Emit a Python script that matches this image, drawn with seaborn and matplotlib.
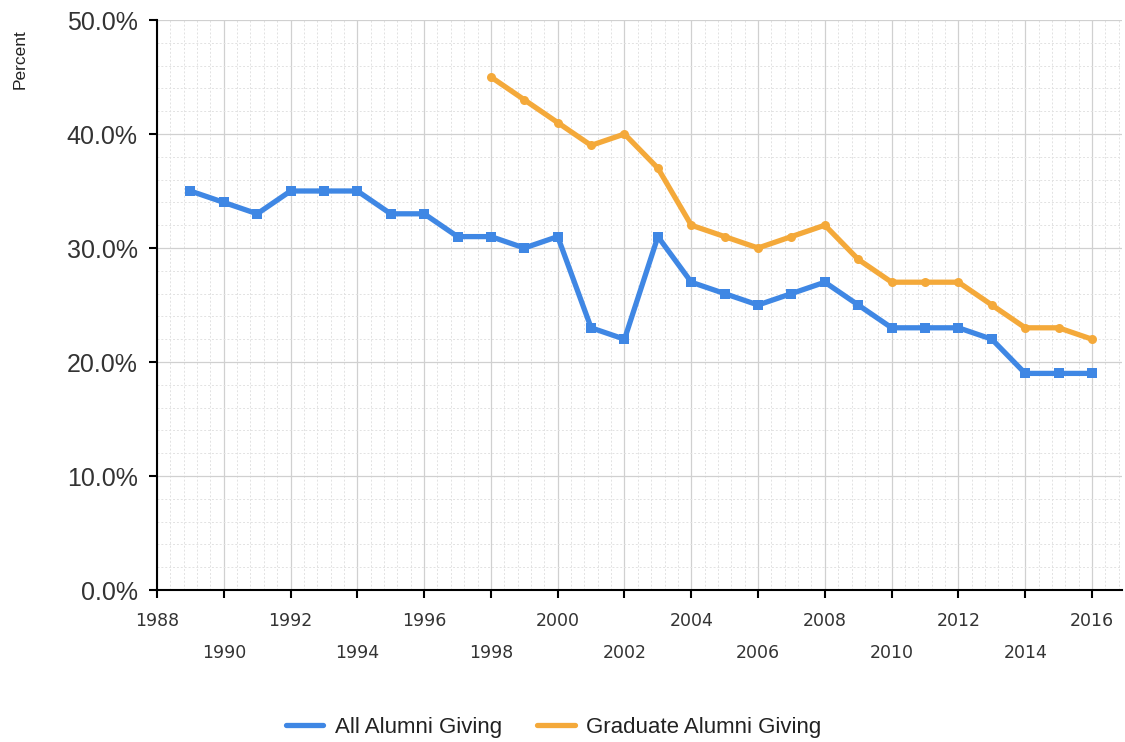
import matplotlib
matplotlib.use("Agg")
import matplotlib.pyplot as plt
import seaborn as sns
import pandas as pd
import numpy as np
from matplotlib.ticker import MultipleLocator, FuncFormatter
from matplotlib.lines import Line2D

all_years = list(range(1989, 2017))
all_values = [35, 34, 33, 35, 35, 35, 33, 33, 31, 31, 30, 31, 23, 22, 31,
              27, 26, 25, 26, 27, 25, 23, 23, 23, 22, 19, 19, 19]
grad_years = list(range(1998, 2017))
grad_values = [45, 43, 41, 39, 40, 37, 32, 31, 30, 31, 32, 29, 27, 27, 27,
               25, 23, 23, 22]
series_names = ["All Alumni Giving", "Graduate Alumni Giving"]
colors = ["#3F87E4", "#F4A93A"]
x_ticks = list(range(1988, 2017, 2))

df = pd.concat([
    pd.DataFrame({"Year": all_years, "Value": all_values, "Series": series_names[0]}),
    pd.DataFrame({"Year": grad_years, "Value": grad_values, "Series": series_names[1]}),
])

sns.set_theme(style="white")
plt.rcParams['font.family'] = ['Liberation Sans', 'DejaVu Sans']

fig = plt.figure(figsize=(11.25, 7.42), dpi=100)
ax = fig.add_axes([157/1125, 1-590/742, (1122-157)/1125, (590-20)/742])

sns.lineplot(data=df, x="Year", y="Value", hue="Series", palette=colors,
             style="Series", markers=["s", "o"], dashes=False,
             linewidth=3.8, markersize=6.5, markeredgewidth=0, ax=ax, legend=False)

ax.set_xlim(1988, 1988 + (1122-157)/((1092-157)/28))
ax.set_ylim(0, 50)
ax.xaxis.set_major_locator(MultipleLocator(2))
ax.xaxis.set_minor_locator(MultipleLocator(0.4))
ax.yaxis.set_major_locator(MultipleLocator(10))
ax.yaxis.set_minor_locator(MultipleLocator(2))
ax.grid(which="major", color="#d0d0d0", linewidth=0.9)
ax.grid(which="minor", color="#e2e2e2", linewidth=0.7, linestyle=(0, (2, 2)))
ax.set_axisbelow(True)

ax.set_xticks(x_ticks)
ax.set_xticklabels([str(y) if i % 2 == 0 else "\n" + str(y) for i, y in enumerate(x_ticks)],
                   fontsize=12.5, color="#333333", linespacing=2.0,
                   family=["DejaVu Sans"])
ax.yaxis.set_major_formatter(FuncFormatter(lambda v, p: f"{v:.1f}%"))
ax.tick_params(axis="y", labelsize=18, labelcolor="#333333", pad=8)
ax.tick_params(axis="both", which="major", length=6, width=1.5, color="black",
               direction="out", left=True, bottom=True)
ax.tick_params(axis="both", which="minor", length=0)
ax.tick_params(axis="x", pad=10)

for s in ["top", "right"]:
    ax.spines[s].set_visible(False)
for s in ["left", "bottom"]:
    ax.spines[s].set_color("black")
    ax.spines[s].set_linewidth(1.5)

ax.set_xlabel("")
ax.set_ylabel("")
fig.text(20/1125, 1-59/742, "Percent", rotation=90, ha="center", va="center",
         fontsize=12.5, color="#222222")

handles = [Line2D([], [], color=c, linewidth=3.8) for c in colors]
fig.legend(handles, series_names, loc="center", bbox_to_anchor=(0.492, 1-727/742),
           ncol=2, frameon=False, fontsize=16, handlelength=1.7, columnspacing=1.6,
           handletextpad=0.5, labelcolor="#222222")

fig.savefig("out.png", dpi=100)
